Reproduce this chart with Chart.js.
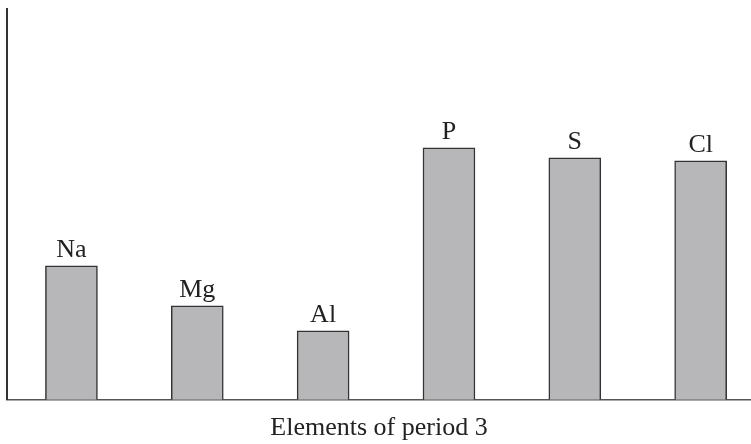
<!DOCTYPE html>
<html>
<head>
<meta charset="utf-8">
<script src="https://cdn.jsdelivr.net/npm/chart.js@4.4.1/dist/chart.umd.min.js"></script>
<style>
  html, body { margin: 0; padding: 0; background: #fff; overflow: hidden; }
  #wrap { width: 751px; height: 444px; }
</style>
</head>
<body>
<div id="wrap"><canvas id="grafico"></canvas></div>
<script>
// datos (unidades arbitrarias, el eje no tiene escala)
const elementos = ['Na', 'Mg', 'Al', 'P', 'S', 'Cl'];
const posiciones = [0, 1, 2, 3, 4, 5];
const valores = [134, 94, 69, 252, 242, 239];
const tituloEjeX = 'Elements of period 3';

const fuente = "'Liberation Serif', 'DejaVu Serif', serif";

// etiqueta del elemento encima de cada barra
const etiquetasBarras = {
  id: 'etiquetasBarras',
  afterDatasetsDraw(chart) {
    const ctx = chart.ctx;
    const meta = chart.getDatasetMeta(0);
    ctx.save();
    ctx.font = '26px ' + fuente;
    ctx.fillStyle = '#222';
    ctx.textAlign = 'center';
    ctx.textBaseline = 'alphabetic';
    meta.data.forEach((bar, i) => {
      ctx.fillText(elementos[i], bar.x, bar.y - 9);
    });
    ctx.restore();
  }
};

const ctx = document.getElementById('grafico').getContext('2d');
new Chart(ctx, {
  type: 'bar',
  data: {
    datasets: [{
      data: posiciones.map((p, i) => ({ x: p, y: valores[i] })),
      backgroundColor: '#b7b7b9',
      borderColor: '#333',
      borderWidth: 1.5,
      borderSkipped: 'bottom',
      barThickness: 52
    }]
  },
  options: {
    responsive: true,
    maintainAspectRatio: false,
    animation: false,
    layout: { padding: { left: 7, top: 9, right: 0, bottom: 0 } },
    plugins: { legend: { display: false }, tooltip: { enabled: false } },
    scales: {
      x: {
        type: 'linear',
        offset: false,
        min: -0.512,
        max: 5.4,
        grid: { display: false, drawTicks: false },
        border: { color: '#555', width: 1.5 },
        ticks: { display: false },
        title: {
          display: true,
          text: tituloEjeX,
          font: { family: fuente, size: 26 },
          color: '#222',
          padding: { top: 13, bottom: 0 }
        }
      },
      y: {
        min: 0,
        max: 391,
        grid: { display: false, drawTicks: false },
        border: { color: '#333', width: 2 },
        ticks: { display: false }
      }
    }
  },
  plugins: [etiquetasBarras]
});
</script>
</body>
</html>
